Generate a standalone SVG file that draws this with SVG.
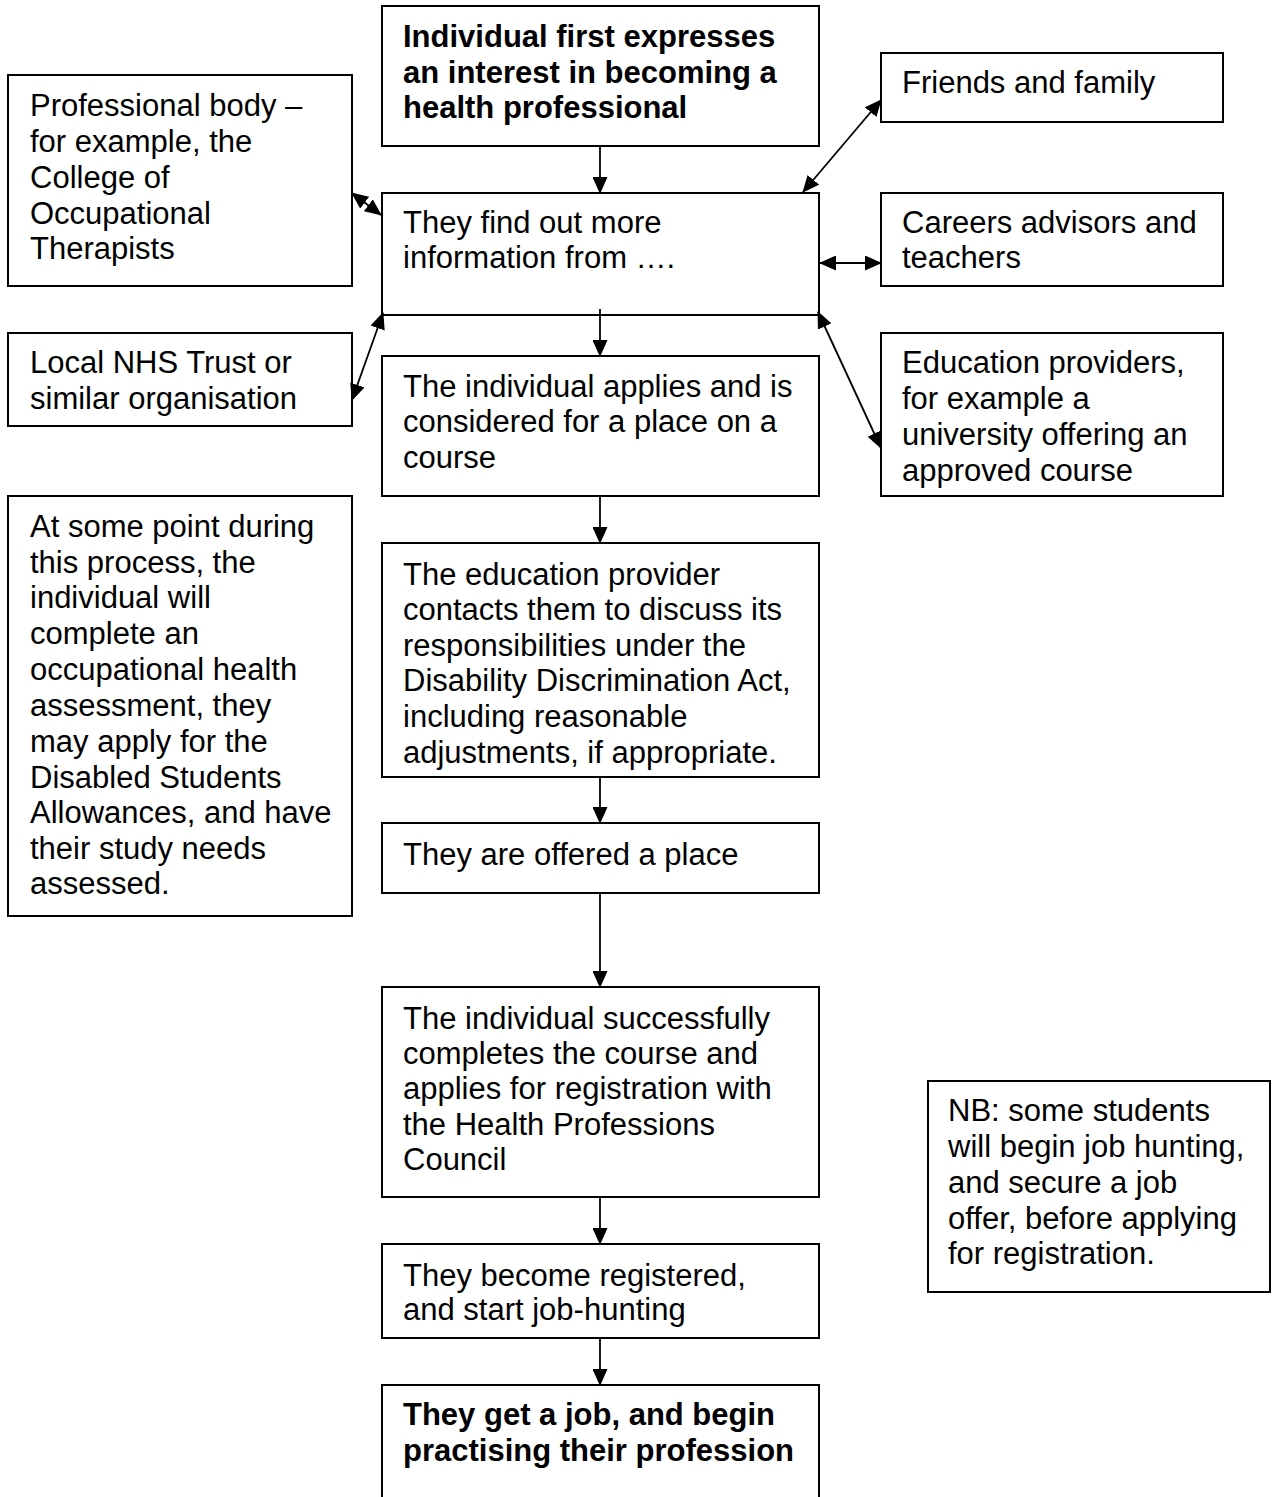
<svg xmlns="http://www.w3.org/2000/svg" width="1275" height="1497" viewBox="0 0 1275 1497">
<style>
.box{fill:#fff;stroke:#000;stroke-width:2}
.t{font-family:"Liberation Sans",Arial,sans-serif;font-size:31px;fill:#000}
.b{font-weight:bold}
.c{stroke:#000;stroke-width:1.8;fill:none}
</style>
<defs>
<marker id="ah" markerUnits="userSpaceOnUse" markerWidth="17" markerHeight="15" refX="16" refY="7.5" orient="auto-start-reverse">
<path d="M0,0 L17,7.5 L0,15 Z" fill="#000"/>
</marker>
</defs>
<rect width="1275" height="1497" fill="#fff"/>
<g id="n_top"><rect class="box" x="382" y="6" width="437" height="140"/>
<text class="t b" x="403"><tspan x="403" y="47">Individual first expresses</tspan><tspan x="403" y="83">an interest in becoming a</tspan><tspan x="403" y="118">health professional</tspan></text></g>
<g id="n_info"><rect class="box" x="382" y="193" width="437" height="122"/>
<text class="t"><tspan x="403" y="233">They find out more</tspan><tspan x="403" y="268">information from ….</tspan></text></g>
<g id="n_prof"><rect class="box" x="8" y="75" width="344" height="211"/>
<text class="t"><tspan x="30" y="116">Professional body –</tspan><tspan x="30" y="152">for example, the</tspan><tspan x="30" y="188">College of</tspan><tspan x="30" y="224">Occupational</tspan><tspan x="30" y="259">Therapists</tspan></text></g>
<g id="n_friends"><rect class="box" x="881" y="53" width="342" height="69"/>
<text class="t"><tspan x="902" y="93">Friends and family</tspan></text></g>
<g id="n_careers"><rect class="box" x="881" y="193" width="342" height="93"/>
<text class="t"><tspan x="902" y="233">Careers advisors and</tspan><tspan x="902" y="268">teachers</tspan></text></g>
<g id="n_nhs"><rect class="box" x="8" y="333" width="344" height="93"/>
<text class="t"><tspan x="30" y="373">Local NHS Trust or</tspan><tspan x="30" y="409">similar organisation</tspan></text></g>
<g id="n_apply"><rect class="box" x="382" y="356" width="437" height="140"/>
<text class="t"><tspan x="403" y="397">The individual applies and is</tspan><tspan x="403" y="432">considered for a place on a</tspan><tspan x="403" y="468">course</tspan></text></g>
<g id="n_eduprov"><rect class="box" x="881" y="333" width="342" height="163"/>
<text class="t"><tspan x="902" y="373">Education providers,</tspan><tspan x="902" y="409">for example a</tspan><tspan x="902" y="445">university offering an</tspan><tspan x="902" y="481">approved course</tspan></text></g>
<g id="n_some"><rect class="box" x="8" y="496" width="344" height="420"/>
<text class="t"><tspan x="30" y="537">At some point during</tspan><tspan x="30" y="573">this process, the</tspan><tspan x="30" y="608">individual will</tspan><tspan x="30" y="644">complete an</tspan><tspan x="30" y="680">occupational health</tspan><tspan x="30" y="716">assessment, they</tspan><tspan x="30" y="752">may apply for the</tspan><tspan x="30" y="788">Disabled Students</tspan><tspan x="30" y="823">Allowances, and have</tspan><tspan x="30" y="859">their study needs</tspan><tspan x="30" y="894">assessed.</tspan></text></g>
<g id="n_contact"><rect class="box" x="382" y="543" width="437" height="234"/>
<text class="t"><tspan x="403" y="585">The education provider</tspan><tspan x="403" y="620">contacts them to discuss its</tspan><tspan x="403" y="656">responsibilities under the</tspan><tspan x="403" y="691">Disability Discrimination Act,</tspan><tspan x="403" y="727">including reasonable</tspan><tspan x="403" y="763">adjustments, if appropriate.</tspan></text></g>
<g id="n_offered"><rect class="box" x="382" y="823" width="437" height="70"/>
<text class="t"><tspan x="403" y="865">They are offered a place</tspan></text></g>
<g id="n_complete"><rect class="box" x="382" y="987" width="437" height="210"/>
<text class="t"><tspan x="403" y="1029">The individual successfully</tspan><tspan x="403" y="1064">completes the course and</tspan><tspan x="403" y="1099">applies for registration with</tspan><tspan x="403" y="1135">the Health Professions</tspan><tspan x="403" y="1170">Council</tspan></text></g>
<g id="n_nb"><rect class="box" x="928" y="1081" width="342" height="211"/>
<text class="t"><tspan x="948" y="1121">NB: some students</tspan><tspan x="948" y="1157">will begin job hunting,</tspan><tspan x="948" y="1193">and secure a job</tspan><tspan x="948" y="1229">offer, before applying</tspan><tspan x="948" y="1264">for registration.</tspan></text></g>
<g id="n_registered"><rect class="box" x="382" y="1244" width="437" height="94"/>
<text class="t"><tspan x="403" y="1286">They become registered,</tspan><tspan x="403" y="1320">and start job-hunting</tspan></text></g>
<g id="n_job"><rect class="box" x="382" y="1385" width="437" height="130"/>
<text class="t b"><tspan x="403" y="1425">They get a job, and begin</tspan><tspan x="403" y="1461">practising their profession</tspan></text></g>
<g id="connectors">
<line class="c" x1="600" y1="146" x2="600" y2="193" marker-end="url(#ah)"/>
<line class="c" x1="600" y1="309" x2="600" y2="356" marker-end="url(#ah)"/>
<line class="c" x1="600" y1="496" x2="600" y2="543" marker-end="url(#ah)"/>
<line class="c" x1="600" y1="777" x2="600" y2="823" marker-end="url(#ah)"/>
<line class="c" x1="600" y1="893" x2="600" y2="987" marker-end="url(#ah)"/>
<line class="c" x1="600" y1="1197" x2="600" y2="1244" marker-end="url(#ah)"/>
<line class="c" x1="600" y1="1338" x2="600" y2="1385" marker-end="url(#ah)"/>
<line class="c" x1="803" y1="192" x2="881" y2="100" marker-start="url(#ah)" marker-end="url(#ah)"/>
<line class="c" x1="352" y1="193" x2="381" y2="215" marker-start="url(#ah)" marker-end="url(#ah)"/>
<line class="c" x1="820" y1="263" x2="881" y2="263" marker-start="url(#ah)" marker-end="url(#ah)"/>
<line class="c" x1="383" y1="313" x2="352" y2="400" marker-start="url(#ah)" marker-end="url(#ah)"/>
<line class="c" x1="818" y1="312" x2="881" y2="448" marker-start="url(#ah)" marker-end="url(#ah)"/>
</g>
</svg>
